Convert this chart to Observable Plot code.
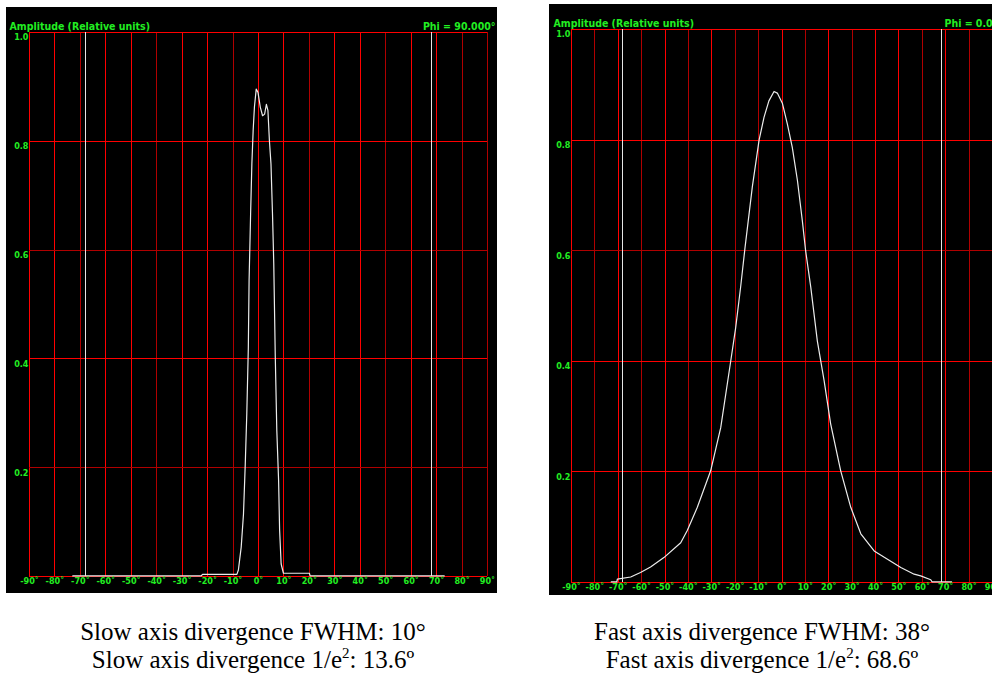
<!DOCTYPE html>
<html>
<head>
<meta charset="utf-8">
<script src="https://cdn.jsdelivr.net/npm/d3@7"></script>
<script src="https://cdn.jsdelivr.net/npm/@observablehq/plot@0.6"></script>
<style>
  html, body { margin: 0; padding: 0; background: #fff; }
  body { width: 992px; height: 673px; overflow: hidden; position: relative; }
  .panel { position: absolute; }
  .panel svg { max-width: none !important; display: block; }
  .cap { position: absolute; width: 500px; text-align: center; font-family: "Liberation Serif", "Times New Roman", serif; font-size: 25px; line-height: 28px; color: #000; white-space: nowrap; }
  sup { font-size: 15px; line-height: 0; vertical-align: 10px; }
</style>
</head>
<body>
<div id="left" class="panel" style="left:6px;top:7px;width:491px;"></div>
<div id="right" class="panel" style="left:549px;top:4px;width:460px;"></div>
<div class="cap" style="left:3px;top:618px;">Slow axis divergence FWHM: 10°<br>Slow axis divergence 1/e<sup>2</sup>: 13.6º</div>
<div class="cap" style="left:512px;top:618px;">Fast axis divergence FWHM: 38°<br>Fast axis divergence 1/e<sup>2</sup>: 68.6º</div>
<script>
// ---- data ----
const xTicks = [-90, -80, -70, -60, -50, -40, -30, -20, -10, 0, 10, 20, 30, 40, 50, 60, 70, 80, 90];
const yTicks = [0.2, 0.4, 0.6, 0.8, 1.0];
const yGrid = [0, 0.2, 0.4, 0.6, 0.8, 1.0];
const markerLines = [-68, 68];

const leftDarkX = [-70, -40, -10, 20, 50, 80, 90];
const leftDarkY = [0.6, 0.2];
const rightDarkX = [-80, -60, -40, -20, -10, 10, 30, 60, 80];
const rightDarkY = [0.6];

const titleText = "Amplitude (Relative units)";
const leftPhi = "Phi = 90.000°";
const rightPhi = "Phi = 0.000°";

// slow axis profile (angle in degrees, relative amplitude)
const slowAngle = [-73, -22.5, -22, -8.5, -7.9, -6.8, -5.9, -5.2, -4.6, -4.0, -3.7, -3.1, -2.6, -2.1, -1.6, -0.9, -0.2, 0.7, 1.6, 2.4, 3.1, 3.7, 4.3, 4.9, 5.5, 6.0, 6.6, 7.2, 7.9, 8.3, 8.9, 9.8, 20, 20.3, 73];
const slowAmp   = [0.001, 0.001, 0.004, 0.004, 0.012, 0.054, 0.115, 0.207, 0.299, 0.42, 0.544, 0.667, 0.759, 0.82, 0.863, 0.896, 0.89, 0.863, 0.847, 0.85, 0.868, 0.857, 0.80, 0.759, 0.667, 0.575, 0.403, 0.268, 0.176, 0.085, 0.023, 0.006, 0.006, 0.001, 0.001];

// fast axis profile
const fastAngle = [-73, -70.6, -70.4, -64.7, -60.5, -56.2, -50.5, -43.3, -40.5, -36.2, -30.5, -26.2, -21.9, -19.8, -17.7, -15.8, -12.7, -9.8, -7.7, -5.6, -3.4, -2.0, 0.2, 2.3, 4.4, 6.6, 8.7, 10.1, 12.3, 15.1, 18.0, 20.8, 25.1, 29.4, 33.7, 39.4, 45.1, 50.8, 56.5, 59.3, 63.6, 64.2, 72.5];
const fastAmp   = [0.001, 0.001, 0.006, 0.01, 0.018, 0.028, 0.045, 0.072, 0.094, 0.136, 0.202, 0.28, 0.401, 0.461, 0.534, 0.606, 0.715, 0.80, 0.841, 0.871, 0.888, 0.885, 0.866, 0.829, 0.787, 0.727, 0.654, 0.60, 0.534, 0.437, 0.365, 0.287, 0.202, 0.136, 0.088, 0.057, 0.042, 0.027, 0.015, 0.012, 0.005, 0.001, 0.001];

const GREEN = "#22ee22";
const RED = "#ff0000";
const DARK = "#b00000";

function panel(opts) {
  const data = opts.angle.map((a, i) => ({a, v: opts.amp[i]}));
  const brightX = xTicks.filter(d => !opts.darkX.includes(d));
  const darkX = xTicks.filter(d => opts.darkX.includes(d));
  const brightY = yGrid.filter(d => !opts.darkY.includes(d));
  const darkY = yGrid.filter(d => opts.darkY.includes(d));
  const crisp = {strokeWidth: 1, shapeRendering: "crispEdges"};
  return Plot.plot({
    width: opts.width,
    height: opts.height,
    marginLeft: opts.ml,
    marginRight: opts.mr,
    marginTop: opts.mt,
    marginBottom: opts.mb,
    x: {domain: [-90, 90]},
    y: {domain: [0, 1]},
    style: {
      background: "#000",
      color: GREEN,
      fontFamily: "'Liberation Sans Narrow', 'DejaVu Sans Condensed', 'Roboto', sans-serif",
      fontSize: "9px",
      fontWeight: "bold",
      overflow: "hidden"
    },
    marks: [
      Plot.ruleX(darkX, {stroke: DARK, ...crisp}),
      Plot.ruleX(brightX, {stroke: RED, ...crisp}),
      Plot.ruleY(darkY, {stroke: DARK, ...crisp}),
      Plot.ruleY(brightY, {stroke: RED, ...crisp}),
      Plot.ruleX(markerLines, {stroke: "#e6e6e6", ...crisp}),
      Plot.line(data, {x: "a", y: "v", stroke: "#ececec", strokeWidth: 1.2}),
      Plot.axisX({ticks: xTicks, tickSize: 0, tickPadding: 1, tickFormat: d => d + "˚", label: null, fontSize: 9}),
      Plot.axisY({ticks: yTicks, tickSize: 0, tickPadding: 1, tickFormat: d3.format(".1f"), label: null, dy: 5, fontSize: 9}),
      Plot.text([titleText], {frameAnchor: "top-left", textAnchor: "start", dx: opts.titleDx, dy: opts.titleDy, fontSize: 10.5}),
      Plot.text([opts.phi], {frameAnchor: opts.phiAnchor, textAnchor: opts.phiText, dx: opts.phiDx, dy: opts.titleDy, fontSize: 10.5})
    ]
  });
}

document.getElementById("left").append(panel({
  angle: slowAngle, amp: slowAmp, darkX: leftDarkX, darkY: leftDarkY,
  width: 491, height: 586, ml: 23, mr: 10, mt: 25, mb: 17,
  titleDx: -20, titleDy: -10, phi: leftPhi, phiAnchor: "top-right", phiText: "end", phiDx: 8
}));

document.getElementById("right").append(panel({
  angle: fastAngle, amp: fastAmp, darkX: rightDarkX, darkY: rightDarkY,
  width: 460, height: 591, ml: 22, mr: 17, mt: 25, mb: 13,
  titleDx: -18, titleDy: -10, phi: rightPhi, phiAnchor: "top-left", phiText: "start", phiDx: 373
}));
</script>
</body>
</html>
